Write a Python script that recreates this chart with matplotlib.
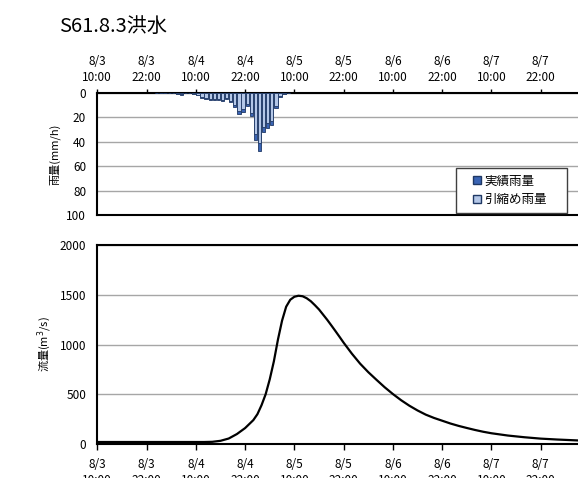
import matplotlib
matplotlib.use("Agg")
import matplotlib.pyplot as plt
from matplotlib.patches import Patch, Rectangle

plt.rcParams['font.family'] = ['Noto Sans CJK JP', 'DejaVu Sans']

# ---- data (hours from 8/3 10:00) ----
title = "S61.8.3洪水"
tick_hours = [0, 12, 24, 36, 48, 60, 72, 84, 96, 108]
tick_labels = ["8/3\n10:00", "8/3\n22:00", "8/4\n10:00", "8/4\n22:00", "8/5\n10:00",
               "8/5\n22:00", "8/6\n10:00", "8/6\n22:00", "8/7\n10:00", "8/7\n22:00"]

rain_hours = [14, 15, 16, 17, 18, 19, 20, 21, 22, 23, 24, 25, 26, 27, 28, 29, 30, 31, 32, 33,
              34, 35, 36, 37, 38, 39, 40, 41, 42, 43, 44, 45, 46]
rain_actual = [0.3, 0.3, 0.5, 0.5, 0.5, 1.0, 1.5, 0.5, 0.5, 1.0, 2.0, 4.0, 5.5, 6.0, 6.0, 6.0,
               7.0, 5.5, 7.5, 12.0, 17.5, 15.5, 11.0, 19.0, 39.0, 47.5, 32.0, 28.5, 26.5, 12.5,
               3.5, 1.0, 0.3]
rain_stretched = [0.2, 0.2, 0.3, 0.3, 0.3, 0.7, 1.0, 0.3, 0.3, 0.7, 1.5, 3.2, 4.6, 5.2, 5.2, 5.2,
                  6.0, 4.7, 6.5, 10.0, 15.0, 13.5, 9.5, 16.5, 34.0, 41.0, 28.0, 25.0, 23.5, 10.5,
                  2.8, 0.7, 0.2]

flow_hours = [0, 6, 12, 18, 24, 26, 28, 30, 32, 34, 36, 38, 39, 40, 41, 42, 43, 44, 45, 46, 47,
              48, 49, 50, 51, 52, 53, 54, 55, 56, 57, 58, 59, 60, 62, 64, 66, 68, 70, 72, 74,
              76, 78, 80, 82, 84, 86, 88, 90, 92, 94, 96, 100, 104, 108, 112, 118]
flow_values = [20, 20, 20, 20, 20, 20, 22, 32, 55, 100, 160, 240, 300, 390, 500, 650, 830,
               1050, 1240, 1380, 1450, 1480, 1490, 1485, 1465, 1435, 1395, 1352, 1300, 1248,
               1192, 1135, 1077, 1018, 908, 808, 722, 645, 570, 502, 440, 385, 337, 295, 262,
               234, 206, 182, 161, 141, 123, 108, 85, 68, 54, 45, 34]

W, H = 578, 478
fig = plt.figure(figsize=(W / 100, H / 100), dpi=100)

def fx(px):
    return px / W

def fy(py):
    return 1 - py / H

left_px, right_px = 97.3, 590.0
ax1 = fig.add_axes([fx(left_px), fy(215.0), fx(right_px - left_px), (215.0 - 92.7) / H])
ax2 = fig.add_axes([fx(left_px), fy(444.0), fx(right_px - left_px), (444.0 - 245.0) / H])

grid_c = "#A6A6A6"
dark = "#3A64B4"
light = "#B4C7E7"
edge = "#1F3864"

# ---- rainfall ----
centers = [h + 0.5 for h in rain_hours]
ax1.bar(centers, rain_actual, width=0.8, color=dark, edgecolor=edge, linewidth=0.6, zorder=3)
ax1.bar(centers, rain_stretched, width=0.8, color=light, edgecolor=edge, linewidth=0.6, zorder=4)
ax1.set_xlim(0, 120)
ax1.set_ylim(100, 0)
ax1.set_yticks([0, 20, 40, 60, 80, 100])
ax1.yaxis.grid(True, color=grid_c, linewidth=1.0, zorder=0)
ax1.set_axisbelow(True)
ax1.xaxis.tick_top()
ax1.set_xticks(tick_hours)
ax1.set_xticklabels(tick_labels, fontsize=8.5, linespacing=1.3)
ax1.tick_params(axis='x', direction='out', length=3, width=1, pad=3, colors='black')
ax1.tick_params(axis='y', length=0, pad=8, labelsize=8.5)
for s in ['top', 'bottom', 'left']:
    ax1.spines[s].set_linewidth(1.5)
    ax1.spines[s].set_color('black')
ax1.spines['right'].set_visible(False)
ax1.set_ylabel("雨量(mm/h)", fontsize=8)
ax1.yaxis.set_label_coords(-0.075, 0.5)

# legend frame box and entries
fig.patches.append(Rectangle((fx(456), fy(212.7)), fx(567 - 456), (212.7 - 168.3) / H,
                             transform=fig.transFigure, facecolor='white',
                             edgecolor='#404040', linewidth=1.0, zorder=9))
leg = fig.legend(handles=[Patch(facecolor=dark, edgecolor=edge, label="実績雨量"),
                          Patch(facecolor=light, edgecolor=edge, label="引縮め雨量"),
                          ],
                 loc='center left', bbox_to_anchor=(fx(473), fy(190.5)),
                 bbox_transform=fig.transFigure, fontsize=9, frameon=False,
                 handlelength=0.65, handleheight=0.65, handletextpad=0.25,
                 borderpad=0, labelspacing=0.45, borderaxespad=0)
leg.set_zorder(10)

# ---- discharge ----
ax2.plot(flow_hours, flow_values, color='black', linewidth=1.6, zorder=3)
ax2.set_xlim(0, 120)
ax2.set_ylim(0, 2000)
ax2.set_yticks([0, 500, 1000, 1500, 2000])
ax2.yaxis.grid(True, color=grid_c, linewidth=1.0, zorder=0)
ax2.set_axisbelow(True)
ax2.set_xticks(tick_hours)
ax2.set_xticklabels(tick_labels, fontsize=8.5, linespacing=1.3)
ax2.tick_params(axis='x', direction='out', length=4, width=1, pad=6, colors='black')
ax2.tick_params(axis='y', length=0, pad=8, labelsize=8.5)
for s in ['top', 'bottom', 'left']:
    ax2.spines[s].set_linewidth(1.5)
    ax2.spines[s].set_color('black')
ax2.spines['right'].set_visible(False)
ax2.set_ylabel("流量(m$^3$/s)", fontsize=8)
ax2.yaxis.set_label_coords(-0.088, 0.5)

fig.text(fx(59), fy(26), title, fontsize=14.5, ha='left', va='center')

fig.savefig("out.png", dpi=100)
